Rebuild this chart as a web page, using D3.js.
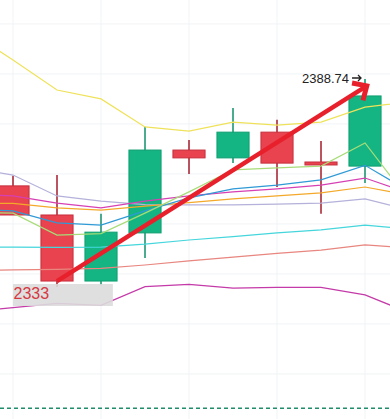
<!DOCTYPE html>
<html>
<head>
<meta charset="utf-8">
<script src="https://cdn.jsdelivr.net/npm/d3@7"></script>
<style>
  html, body { margin: 0; padding: 0; background: #fff; }
  svg { display: block; }
</style>
</head>
<body>
<div id="chart"></div>
<script>
// size of the picture
var svgWidth = 390;
var svgHeight = 419;

// candles (index 0..8), prices
var opens  = [2360.1, 2352.3, 2334.6, 2347.5, 2369.7, 2367.6, 2374.5, 2366.5, 2365.4];
var highs  = [2362.8, 2363.0, 2352.6, 2375.9, 2372.4, 2381.0, 2377.8, 2372.1, 2388.74];
var lows   = [2352.3, 2333.0, 2333.5, 2340.8, 2363.3, 2366.2, 2359.8, 2352.6, 2360.9];
var closes = [2352.3, 2334.6, 2347.7, 2369.7, 2367.6, 2374.5, 2366.2, 2365.7, 2384.2];

// moving average lines, index -1 .. 9
var maIndex = [-1, 0, 1, 2, 3, 4, 5, 6, 7, 8, 9];
var maYellow   = [2401.6, 2393.8, 2385.8, 2383.4, 2375.9, 2374.8, 2377.2, 2376.4, 2377.2, 2381.2, 2382.6];
var maLime     = [2353.1, 2352.8, 2346.9, 2347.3, 2352.8, 2358.5, 2364.4, 2364.9, 2365.4, 2371.6, 2356.3];
var maBlue     = [2353.9, 2353.4, 2350.2, 2349.6, 2353.4, 2356.9, 2359.3, 2360.3, 2361.7, 2365.6, 2358.7];
var maPink     = [2357.9, 2357.4, 2355.5, 2354.2, 2356.0, 2357.4, 2358.5, 2359.3, 2360.3, 2362.2, 2358.1];
var maOrange   = [2355.5, 2355.4, 2354.2, 2353.6, 2354.7, 2355.6, 2356.6, 2357.4, 2358.2, 2359.8, 2357.6];
var maLavender = [2364.9, 2363.0, 2357.4, 2356.0, 2355.1, 2355.0, 2355.0, 2355.2, 2355.5, 2356.6, 2353.7];
var maCyan     = [2343.7, 2343.7, 2343.6, 2343.7, 2344.5, 2345.6, 2346.5, 2347.5, 2348.3, 2349.6, 2348.5];
var maSalmon   = [2337.4, 2337.6, 2337.7, 2338.0, 2338.9, 2340.0, 2341.0, 2342.0, 2342.9, 2344.3, 2343.5];
var maPurple   = [2326.3, 2327.5, 2328.6, 2328.1, 2333.1, 2333.7, 2332.7, 2332.9, 2332.9, 2330.9, 2326.1];

// grid + levels
var gridPrices = [2403.5, 2390.1, 2376.7, 2363.3, 2349.9, 2336.5, 2323.1, 2309.7];
var gridIndex = [0, 2, 4, 6, 8];
var dashedLevel = 2300.5;

// annotations
var lowLabel = "2333";
var highLabel = "2388.74";
var arrowFrom = { i: 1, p: 2334.6 };
var arrowTo = { i: 8.04, p: 2386.9 };

var svg = d3.select("#chart").append("svg")
  .attr("width", svgWidth)
  .attr("height", svgHeight);

// scales
var x = d3.scaleLinear().domain([-0.2955, 8.568]).range([0, svgWidth]);
var y = d3.scaleLinear().domain([2297.63, 2409.91]).range([svgHeight, 0]);
var step = x(1) - x(0);
var bodyW = step * 0.73;

// grid lines
svg.append("g").selectAll("line")
  .data(gridPrices)
  .enter().append("line")
  .attr("x1", 0).attr("x2", svgWidth)
  .attr("y1", d => y(d)).attr("y2", d => y(d))
  .attr("stroke", "#f0f3f5")
  .attr("stroke-width", 1);

svg.append("g").selectAll("line")
  .data(gridIndex)
  .enter().append("line")
  .attr("x1", d => x(d)).attr("x2", d => x(d))
  .attr("y1", 0).attr("y2", svgHeight)
  .attr("stroke", "#f0f3f5")
  .attr("stroke-width", 1);

// dashed level line
svg.append("line")
  .attr("x1", 0).attr("x2", svgWidth)
  .attr("y1", y(dashedLevel)).attr("y2", y(dashedLevel))
  .attr("stroke", "#1f8c6c")
  .attr("stroke-width", 1.5)
  .attr("stroke-dasharray", "4,3");

// candles
var candles = opens.map(function(o, i) {
  return { i: i, o: o, h: highs[i], l: lows[i], c: closes[i], up: closes[i] >= o };
});

var cg = svg.append("g").selectAll("g")
  .data(candles)
  .enter().append("g");

cg.append("line")
  .attr("x1", d => x(d.i)).attr("x2", d => x(d.i))
  .attr("y1", d => y(d.h)).attr("y2", d => y(d.l))
  .attr("stroke", d => d.up ? "#11906a" : "#a51b2b")
  .attr("stroke-width", 1.5);

cg.append("rect")
  .attr("x", d => x(d.i) - bodyW / 2)
  .attr("width", bodyW)
  .attr("y", d => y(Math.max(d.o, d.c)))
  .attr("height", d => Math.max(1, y(Math.min(d.o, d.c)) - y(Math.max(d.o, d.c))))
  .attr("fill", d => d.up ? "#14b583" : "#e8434f")
  .attr("stroke", d => d.up ? "#0f9e70" : "#c72f3d")
  .attr("stroke-width", 1);

// moving averages
var maSeries = [
  { v: maPurple, color: "#c43aa8" },
  { v: maSalmon, color: "#e8867f" },
  { v: maCyan, color: "#45d6dc" },
  { v: maLavender, color: "#b4b1da" },
  { v: maOrange, color: "#f4a92a" },
  { v: maPink, color: "#d640b4" },
  { v: maBlue, color: "#2f9ad6" },
  { v: maLime, color: "#a8dc78" },
  { v: maYellow, color: "#efe25a" }
];

var line = d3.line()
  .x(d => x(d[0]))
  .y(d => y(d[1]));

svg.append("g").selectAll("path")
  .data(maSeries)
  .enter().append("path")
  .attr("d", d => line(maIndex.map((k, j) => [k, d.v[j]])))
  .attr("fill", "none")
  .attr("stroke", d => d.color)
  .attr("stroke-width", 1.2);

// red arrow
var ax1 = x(arrowFrom.i), ay1 = y(arrowFrom.p);
var ax2 = x(arrowTo.i), ay2 = y(arrowTo.p);
var ang = Math.atan2(ay1 - ay2, ax1 - ax2);
var headLen = 15;
var headSpread = 0.75;

svg.append("line")
  .attr("x1", ax1).attr("y1", ay1)
  .attr("x2", ax2).attr("y2", ay2)
  .attr("stroke", "#e8202c")
  .attr("stroke-width", 4.5);

svg.append("path")
  .attr("d", "M" + (ax2 + headLen * Math.cos(ang - headSpread)) + "," + (ay2 + headLen * Math.sin(ang - headSpread)) +
    "L" + ax2 + "," + ay2 +
    "L" + (ax2 + headLen * Math.cos(ang + headSpread)) + "," + (ay2 + headLen * Math.sin(ang + headSpread)))
  .attr("fill", "none")
  .attr("stroke", "#e8202c")
  .attr("stroke-width", 5)
  .attr("stroke-linejoin", "miter");

// low label with grey box
var lowY = y(d3.min(lows));
svg.append("rect")
  .attr("x", x(0))
  .attr("y", lowY - 3)
  .attr("width", x(2.27) - x(0))
  .attr("height", 22)
  .attr("fill", "#dcdcdc")
  .attr("opacity", 0.9);

svg.append("text")
  .attr("x", x(0) + 0.5)
  .attr("y", lowY + 11.5)
  .attr("font-family", "Liberation Sans, Arial, sans-serif")
  .attr("font-size", "16px")
  .attr("fill", "#d5383f")
  .text(lowLabel);

// high label with small arrow pointing at the wick top
var hx = x(8), hy = y(d3.max(highs)) - 1;
svg.append("text")
  .attr("x", hx - 16)
  .attr("y", hy + 5)
  .attr("text-anchor", "end")
  .attr("font-family", "Liberation Sans, Arial, sans-serif")
  .attr("font-size", "13px")
  .attr("fill", "#222")
  .text(highLabel);

svg.append("path")
  .attr("d", "M" + (hx - 13) + "," + hy + "H" + (hx - 4) +
    "M" + (hx - 7) + "," + (hy - 3) + "L" + (hx - 4) + "," + hy + "L" + (hx - 7) + "," + (hy + 3))
  .attr("fill", "none")
  .attr("stroke", "#222")
  .attr("stroke-width", 1.3);
</script>
</body>
</html>
